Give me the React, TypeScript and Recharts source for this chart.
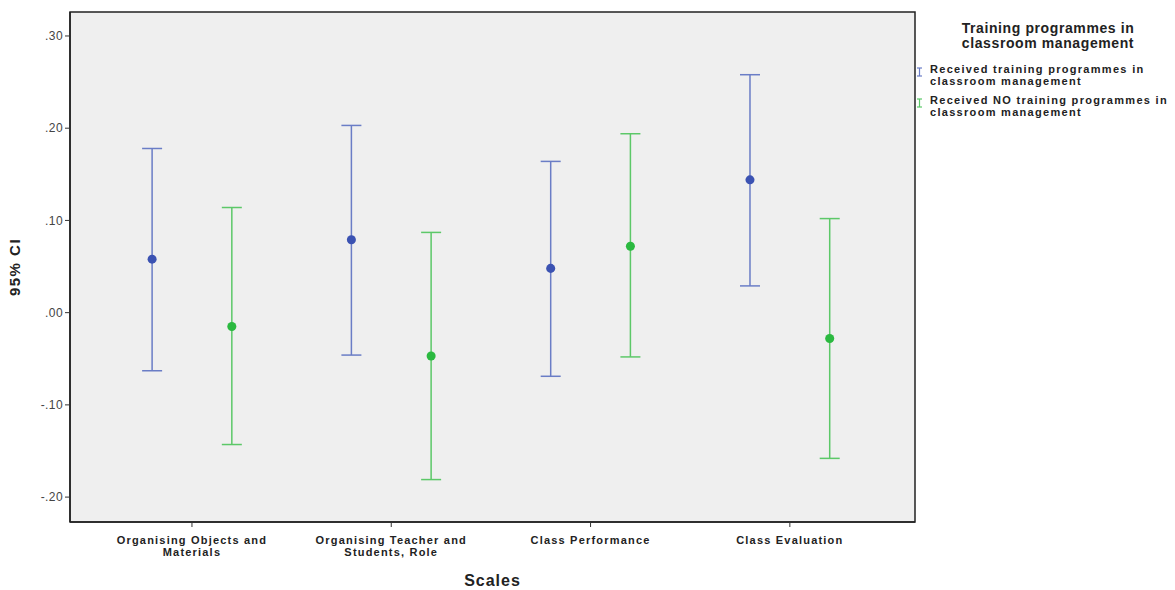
import { ScatterChart, Scatter, XAxis, YAxis, ErrorBar, CartesianGrid, Label, ReferenceArea } from "recharts";

// Mean and 95% CI per scale
const scales = [
  "Organising Objects and Materials",
  "Organising Teacher and Students, Role",
  "Class Performance",
  "Class Evaluation",
];
const groups = [
  "Received training programmes in classroom management",
  "Received NO training programmes in classroom management",
];
const legendTitle = "Training programmes in classroom management";

const trainedMean = [0.058, 0.079, 0.048, 0.144];
const trainedLow = [-0.063, -0.046, -0.069, 0.029];
const trainedHigh = [0.178, 0.203, 0.164, 0.258];

const untrainedMean = [-0.015, -0.047, 0.072, -0.028];
const untrainedLow = [-0.143, -0.181, -0.048, -0.158];
const untrainedHigh = [0.114, 0.087, 0.194, 0.102];

const yTicks = [-0.2, -0.1, 0, 0.1, 0.2, 0.3];

const X_DOMAIN: [number, number] = [-0.612, 3.628];
const Y_DOMAIN: [number, number] = [-0.227, 0.326];

const FONT = '"Liberation Sans", Arial, sans-serif';
const BLUE_LINE = "#6a7dc6";
const BLUE_DOT = "#3b52b2";
const GREEN_LINE = "#5cc868";
const GREEN_DOT = "#2bb940";

const buildSeries = (mean: number[], low: number[], high: number[], offset: number) =>
  mean.map((m, i) => ({ x: i + offset, y: m, err: [m - low[i], high[i] - m] }));

const trainedData = buildSeries(trainedMean, trainedLow, trainedHigh, -0.2);
const untrainedData = buildSeries(untrainedMean, untrainedLow, untrainedHigh, 0.2);

const wrap = (text: string, max: number) => {
  const lines: string[] = [];
  let cur = "";
  text.split(" ").forEach((w) => {
    const next = cur ? cur + " " + w : w;
    if (next.length > max && cur) {
      lines.push(cur);
      cur = w;
    } else {
      cur = next;
    }
  });
  if (cur) lines.push(cur);
  return lines;
};

const fmtTick = (v: number) => {
  const s = Math.abs(v).toFixed(2).replace(/^0/, "");
  return v < -1e-9 ? "-" + s : s;
};

const XTick = ({ x, y, payload }: any) => {
  const lines = wrap(scales[payload.value] ?? "", 22);
  return (
    <text x={x} y={y} textAnchor="middle" fontFamily={FONT} fontSize={11} fontWeight="bold" fill="#222" letterSpacing={1.2}>
      {lines.map((l, i) => (
        <tspan key={i} x={x} y={y + 15 + i * 12}>
          {l}
        </tspan>
      ))}
    </text>
  );
};

const LegendIcon = ({ color }: { color: string }) => (
  <svg width={7} height={10} style={{ display: "block" }}>
    <line x1={1} y1={1} x2={6} y2={1} stroke={color} strokeWidth={1.2} />
    <line x1={3.5} y1={1} x2={3.5} y2={9} stroke={color} strokeWidth={1.2} />
    <line x1={1} y1={9} x2={6} y2={9} stroke={color} strokeWidth={1.2} />
  </svg>
);

export default function App() {
  const legendItems = [
    { name: groups[0], color: BLUE_LINE },
    { name: groups[1], color: GREEN_LINE },
  ];

  return (
    <div style={{ position: "absolute", left: 0, top: 0, width: 1175, height: 590, background: "#fff" }}>
      <ScatterChart width={1175} height={590} margin={{ top: 12, right: 260, bottom: 0, left: 0 }}>
        <CartesianGrid fill="#efefef" horizontal={false} vertical={false} />
        <XAxis
          type="number"
          dataKey="x"
          domain={X_DOMAIN}
          ticks={[0, 1, 2, 3]}
          allowDataOverflow
          height={68}
          tickSize={5}
          tickMargin={2}
          tick={<XTick />}
          tickLine={{ stroke: "#333" }}
          axisLine={{ stroke: "#222", strokeWidth: 1.5 }}
        >
          <Label
            value="Scales"
            position="insideBottom"
            offset={4}
            style={{ fontFamily: FONT, fontSize: 16, fontWeight: "bold", fill: "#222", letterSpacing: 1 }}
          />
        </XAxis>
        <YAxis
          type="number"
          dataKey="y"
          domain={Y_DOMAIN}
          ticks={yTicks}
          allowDataOverflow
          width={70}
          tickSize={5}
          tickMargin={2}
          tickFormatter={fmtTick}
          tick={{ fontFamily: FONT, fontSize: 12, fill: "#444", letterSpacing: 0.4 }}
          tickLine={{ stroke: "#333" }}
          axisLine={{ stroke: "#222", strokeWidth: 1.5 }}
        >
          <Label
            content={({ viewBox }: any) => {
              const cx = 16;
              const cy = viewBox.y + viewBox.height / 2;
              return (
                <text
                  x={cx}
                  y={cy}
                  transform={`rotate(-90, ${cx}, ${cy})`}
                  textAnchor="middle"
                  dominantBaseline="middle"
                  fontFamily={FONT}
                  fontSize={15}
                  fontWeight="bold"
                  fill="#222"
                  letterSpacing={1.5}
                >
                  95% CI
                </text>
              );
            }}
          />
        </YAxis>
        {/* plot frame */}
        <ReferenceArea
          x1={X_DOMAIN[0]}
          x2={X_DOMAIN[1]}
          y1={Y_DOMAIN[0]}
          y2={Y_DOMAIN[1]}
          fill="none"
          fillOpacity={0}
          stroke="#222"
          strokeWidth={1.5}
          ifOverflow="visible"
        />
        <Scatter name={groups[0]} data={trainedData} fill={BLUE_DOT} isAnimationActive={false}>
          <ErrorBar dataKey="err" direction="y" width={10} stroke={BLUE_LINE} strokeWidth={1.5} isAnimationActive={false} />
        </Scatter>
        <Scatter name={groups[1]} data={untrainedData} fill={GREEN_DOT} isAnimationActive={false}>
          <ErrorBar dataKey="err" direction="y" width={10} stroke={GREEN_LINE} strokeWidth={1.5} isAnimationActive={false} />
        </Scatter>
      </ScatterChart>

      {/* Legend */}
      <div style={{ position: "absolute", left: 915, top: 21, width: 260, fontFamily: FONT, color: "#222" }}>
        <div style={{ textAlign: "center", fontWeight: "bold", fontSize: 14, lineHeight: "15px", letterSpacing: 0.6, marginLeft: 6 }}>
          {wrap(legendTitle, 24).map((l, i) => (
            <div key={i}>{l}</div>
          ))}
        </div>
        <div style={{ marginTop: 12 }}>
          {legendItems.map((it) => (
            <div key={it.name} style={{ display: "flex", alignItems: "flex-start", marginBottom: 7 }}>
              <div style={{ marginTop: 4, marginRight: 7, marginLeft: 1 }}>
                <LegendIcon color={it.color} />
              </div>
              <div style={{ fontWeight: "bold", fontSize: 11, lineHeight: "12px", letterSpacing: 1.3 }}>
                {wrap(it.name, 34).map((l, i) => (
                  <div key={i}>{l}</div>
                ))}
              </div>
            </div>
          ))}
        </div>
      </div>
    </div>
  );
}
